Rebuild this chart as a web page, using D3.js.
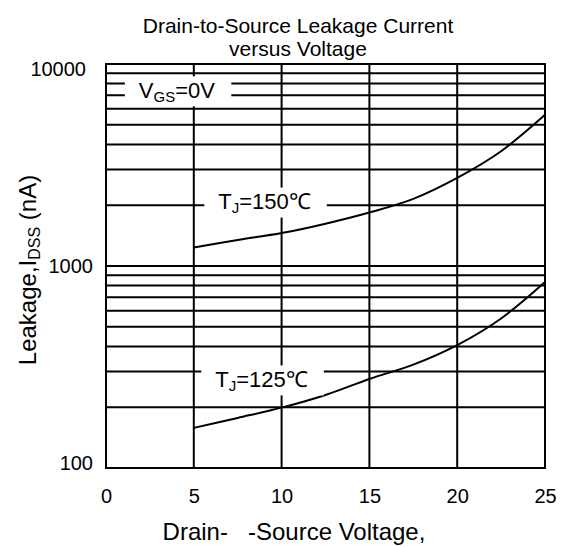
<!DOCTYPE html>
<html>
<head>
<meta charset="utf-8">
<script src="https://cdn.jsdelivr.net/npm/d3@7"></script>
<style>
  body { margin: 0; background: #fff; }
  text { font-family: "Liberation Sans", Arial, sans-serif; fill: #000; }
</style>
</head>
<body>
<div id="chart"></div>
<script>
/* DATA */
const voltage = [5, 7.5, 10, 12.5, 15, 17.5, 20, 22.5, 25];
const leak150 = [1235, 1345, 1455, 1620, 1840, 2150, 2730, 3700, 5600];
const leak125 = [158, 177, 199, 230, 276, 325, 406, 550, 833];
const xTicks = [0, 5, 10, 15, 20, 25];
const yTicks = [100, 1000, 10000];

/* CONSTANTS */
const width = 563;
const height = 547;
const plotL = 106, plotR = 545, plotT = 64, plotB = 468;

const svg = d3.select("#chart")
  .append("svg")
  .attr("width", width)
  .attr("height", height);

const xScale = d3.scaleLinear()
  .domain([0, 25])
  .range([plotL, plotR]);

const yScale = d3.scaleLog()
  .domain([100, 10000])
  .range([plotB, plotT]);

// grid
svg.append("g")
  .selectAll("line")
  .data(yScale.ticks().filter(d => d > 100 && d < 10000))
  .join("line")
  .attr("x1", plotL).attr("x2", plotR)
  .attr("y1", d => yScale(d)).attr("y2", d => yScale(d))
  .attr("stroke", "#000")
  .attr("stroke-width", 2);

svg.append("g")
  .selectAll("line")
  .data(xTicks.filter(d => d > 0 && d < 25))
  .join("line")
  .attr("x1", d => xScale(d)).attr("x2", d => xScale(d))
  .attr("y1", plotT).attr("y2", plotB)
  .attr("stroke", "#000")
  .attr("stroke-width", 2);

svg.append("rect")
  .attr("x", plotL).attr("y", plotT)
  .attr("width", plotR - plotL).attr("height", plotB - plotT)
  .attr("fill", "none")
  .attr("stroke", "#000")
  .attr("stroke-width", 2);

// axes (labels only)
const xAxis = d3.axisBottom(xScale).tickValues(xTicks).tickSize(0).tickPadding(21);
svg.append("g")
  .attr("transform", `translate(0,${plotB})`)
  .call(xAxis)
  .call(g => g.select(".domain").remove())
  .selectAll("text")
  .attr("font-size", 20)
  .attr("font-family", null);

const yAxis = d3.axisLeft(yScale).tickValues(yTicks).tickFormat(d3.format("d")).tickSize(0).tickPadding(13);
svg.append("g")
  .attr("transform", `translate(${plotL},0)`)
  .call(yAxis)
  .call(g => g.select(".domain").remove())
  .selectAll("text")
  .attr("font-size", 20)
  .attr("font-family", null)
  .attr("transform", d => d === 10000 ? "translate(-7,5)" : d === 100 ? "translate(0,-5)" : null);

// curves
const lineGen = d3.line()
  .x((d, i) => xScale(voltage[i]))
  .y(d => yScale(d))
  .curve(d3.curveCatmullRom.alpha(0.5));

[leak150, leak125].forEach(series => {
  svg.append("path")
    .datum(series)
    .attr("fill", "none")
    .attr("stroke", "#000")
    .attr("stroke-width", 2)
    .attr("d", lineGen);
});

// annotations
const notes = [
  {main: "V", sub: "GS", rest: "=0V", v: 4.04, val: 6800},
  {main: "T", sub: "J", rest: "=150\u2103", v: 9.03, val: 1914},
  {main: "T", sub: "J", rest: "=125\u2103", v: 8.86, val: 252}
];

notes.forEach(n => {
  const g = svg.append("g");
  const bg = g.append("rect").attr("fill", "#fff");
  const t = g.append("text")
    .attr("x", xScale(n.v))
    .attr("y", yScale(n.val))
    .attr("text-anchor", "middle")
    .attr("font-size", 22);
  t.append("tspan").text(n.main);
  t.append("tspan").attr("font-size", 15).attr("dy", 4).text(n.sub);
  t.append("tspan").attr("dy", -4).text(n.rest);
  const b = t.node().getBBox();
  bg.attr("x", b.x - 14).attr("y", b.y + b.height / 2 - 15)
    .attr("width", b.width + 30).attr("height", 30);
});

// titles
const title = svg.append("text")
  .attr("text-anchor", "middle")
  .attr("font-size", 21);
title.append("tspan").attr("x", 298).attr("y", 33).text("Drain-to-Source Leakage Current");
title.append("tspan").attr("x", 298).attr("y", 56).text("versus Voltage");

svg.append("text")
  .attr("x", 294)
  .attr("y", 540)
  .attr("text-anchor", "middle")
  .attr("font-size", 24)
  .style("white-space", "pre")
  .text("Drain-   -Source Voltage,");

const yLabel = svg.append("text")
  .attr("transform", "translate(36,270) rotate(-90)")
  .attr("text-anchor", "middle")
  .attr("font-size", 24);
yLabel.append("tspan").text("Leakage,I");
yLabel.append("tspan").attr("font-size", 16).attr("dy", 4).text("DSS");
yLabel.append("tspan").attr("dy", -4).text(" (nA)");
</script>
</body>
</html>
